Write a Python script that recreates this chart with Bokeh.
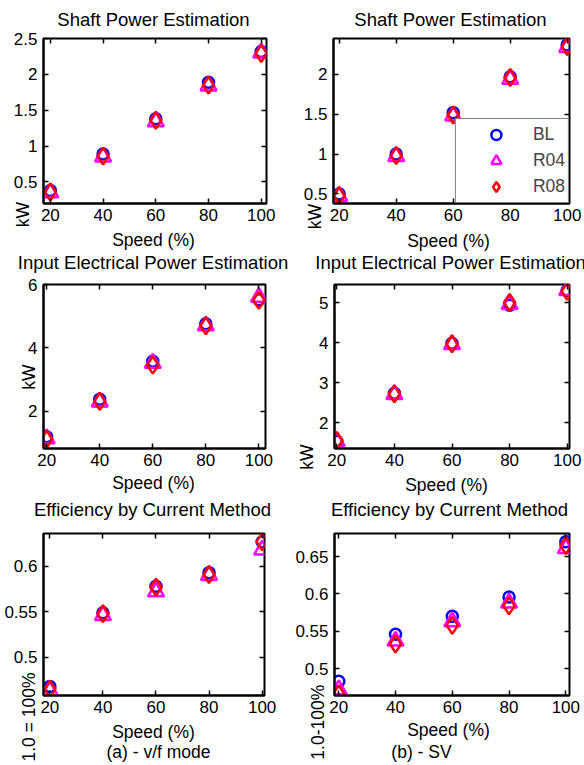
import math
from bokeh.plotting import figure
from bokeh.models import Label, Legend, LegendItem, FixedTicker, LinearAxis, Range1d
from bokeh.layouts import column, row
from bokeh.embed import file_html
from bokeh.resources import INLINE

# ---------------- data ----------------
speed = [20, 40, 60, 80, 100]
x_ticks = [20, 40, 60, 80, 100]
x_tick_labels = ["20", "40", "60", "80", "100"]
series_names = ["BL", "R04", "R08"]

# (a) v/f mode
vf_shaft_bl = [0.38, 0.89, 1.38, 1.89, 2.32]
vf_shaft_r04 = [0.35, 0.85, 1.34, 1.84, 2.30]
vf_shaft_r08 = [0.36, 0.86, 1.36, 1.85, 2.29]
vf_input_bl = [1.20, 2.38, 3.58, 4.76, 5.52]
vf_input_r04 = [1.14, 2.30, 3.52, 4.70, 5.60]
vf_input_r08 = [1.12, 2.32, 3.46, 4.70, 5.50]
vf_eff_bl = [0.468, 0.549, 0.578, 0.593, 0.627]
vf_eff_r04 = [0.463, 0.546, 0.572, 0.590, 0.618]
vf_eff_r08 = [0.465, 0.548, 0.577, 0.591, 0.627]

# (b) SV
sv_shaft_bl = [0.50, 1.00, 1.52, 1.97, 2.37]
sv_shaft_r04 = [0.47, 0.97, 1.48, 1.94, 2.34]
sv_shaft_r08 = [0.48, 0.98, 1.49, 1.96, 2.35]
sv_input_bl = [1.53, 2.73, 3.98, 4.93, 5.30]
sv_input_r04 = [1.52, 2.70, 3.95, 4.95, 5.30]
sv_input_r08 = [1.55, 2.72, 3.97, 5.00, 5.28]
sv_eff_bl = [0.483, 0.546, 0.570, 0.596, 0.670]
sv_eff_r04 = [0.472, 0.537, 0.563, 0.588, 0.661]
sv_eff_r08 = [0.466, 0.533, 0.558, 0.584, 0.665]

# y ticks
yt_vf_shaft = [0.5, 1, 1.5, 2, 2.5]
yl_vf_shaft = ["0.5", "1", "1.5", "2", "2.5"]
yt_sv_shaft = [0.5, 1, 1.5, 2]
yl_sv_shaft = ["0.5", "1", "1.5", "2"]
yt_vf_input = [2, 4, 6]
yl_vf_input = ["2", "4", "6"]
yt_sv_input = [2, 3, 4, 5]
yl_sv_input = ["2", "3", "4", "5"]
yt_vf_eff = [0.5, 0.55, 0.6]
yl_vf_eff = ["0.5", "0.55", "0.6"]
yt_sv_eff = [0.5, 0.55, 0.6, 0.65]
yl_sv_eff = ["0.5", "0.55", "0.6", "0.65"]

# texts
titles = ["Shaft Power Estimation", "Shaft Power Estimation",
          "Input Electrical Power Estimation", "Input Electrical Power Estimation",
          "Efficiency by Current Method", "Efficiency by Current Method"]
x_label = "Speed (%)"
y_labels = ["kW", "kW", "kW", "kW", "1.0 = 100%", "1.0-100%"]
captions = ["(a) - v/f mode", "(b) - SV"]

# ---------------- style / layout ----------------
FONT = "Liberation Sans"
FS_TICK = "17px"
FS_LAB = "17.5px"
FS_TITLE = "18.5px"
COLORS = ["#0000ff", "#ff00ff", "#ff0000"]
ROW_TOP = [0, 251, 494]
ROW_H = [251, 243, 271]
COL_LEFT = [0, 292]
COL_W = 292
W, H = 584, 765

# page-pixel anchor points for the texts (layout only)
TITLE_POS = [(153, 19), (450, 19), (152.5, 262), (450, 262), (152, 509), (449, 509)]
XLAB_POS = [(153, 239.5), (448, 240.5), (153, 482.5), (446, 484.5), (153, 731.5), (448, 729.5)]
YLAB_POS = [(22.5, 214), (314.5, 216), (28.3, 376.5), (306, 456.7), (28.3, 716.5), (317.8, 721.7)]
CAP_POS = [(158, 751.5), (421, 751.5)]


def panel(r, c, frame, xr, yr, yt, yl, ys, legend=False):
    left, top, right, bottom = frame
    rl = COL_LEFT[c]
    rt = ROW_TOP[r]
    p = figure(width=COL_W, height=ROW_H[r], output_backend="svg",
               toolbar_location=None, x_range=Range1d(*xr), y_range=Range1d(*yr),
               min_border_left=int(round(left - rl)),
               min_border_right=int(round(rl + COL_W - right)),
               min_border_top=int(round(top - rt)),
               min_border_bottom=int(round(rt + ROW_H[r] - bottom)))
    p.grid.visible = False
    p.outline_line_color = "black"
    p.outline_line_width = 2
    p.background_fill_color = "white"
    p.border_fill_color = "white"
    for ax in (p.xaxis[0], p.yaxis[0]):
        ax.major_tick_in = 5
        ax.major_tick_out = 0
        ax.minor_tick_line_color = None
        ax.axis_line_width = 2
        ax.major_tick_line_width = 1.5
        ax.major_label_text_font = FONT
        ax.major_label_text_font_size = FS_TICK
        ax.major_label_text_color = "black"
    p.xaxis[0].ticker = FixedTicker(ticks=x_ticks)
    p.xaxis[0].major_label_overrides = dict(zip(x_ticks, x_tick_labels))
    p.xaxis[0].major_label_standoff = 5
    p.yaxis[0].ticker = FixedTicker(ticks=yt)
    p.yaxis[0].major_label_overrides = dict(zip(yt, yl))
    p.yaxis[0].major_label_standoff = 6
    # mirrored ticks (box)
    for side, tk in (("right", yt), ("above", x_ticks)):
        a = LinearAxis(ticker=FixedTicker(ticks=tk),
                       major_label_overrides={t: "" for t in tk},
                       major_label_text_font_size="10px",
                       major_tick_in=5, major_tick_out=0, major_tick_line_width=1.5,
                       minor_tick_line_color=None, axis_line_color=None,
                       major_label_standoff=0)
        p.add_layout(a, side)

    rends = []
    markers = [dict(marker="circle", size=11),
               dict(marker="triangle", size=16),
               dict(marker="diamond", size=17)]
    for vals, col, mk in zip(ys, COLORS, markers):
        rr = p.scatter(speed, vals, line_color=col, fill_color=None,
                       line_width=2.5, **mk)
        rends.append(rr)

    if legend:
        leg = Legend(items=[LegendItem(label=n, renderers=[rr])
                            for n, rr in zip(series_names, rends)],
                     location="bottom_right", margin=0, padding=3,
                     glyph_width=74, glyph_height=25, label_height=25,
                     label_standoff=-2, spacing=1,
                     label_text_font=FONT, label_text_font_size=FS_LAB,
                     border_line_color="black", border_line_width=1.5,
                     background_fill_alpha=1.0)
        p.add_layout(leg, "center")
    return p


p1 = panel(0, 0, (43, 37, 266, 203), (17.4, 102.0), (0.2, 2.5), yt_vf_shaft, yl_vf_shaft,
           [vf_shaft_bl, vf_shaft_r04, vf_shaft_r08])
p2 = panel(0, 1, (333, 38, 569, 204), (18.0, 100.8), (0.38, 2.45), yt_sv_shaft, yl_sv_shaft,
           [sv_shaft_bl, sv_shaft_r04, sv_shaft_r08], legend=True)
p3 = panel(1, 0, (43, 283, 265, 448), (18.8, 102.5), (0.83, 6.0), yt_vf_input, yl_vf_input,
           [vf_input_bl, vf_input_r04, vf_input_r08])
p4 = panel(1, 1, (334, 284, 569, 452), (19.2, 100.8), (1.35, 5.45), yt_sv_input, yl_sv_input,
           [sv_input_bl, sv_input_r04, sv_input_r08])
p5 = panel(2, 0, (43, 529, 264, 695), (17.6, 100.9), (0.458, 0.636), yt_vf_eff, yl_vf_eff,
           [vf_eff_bl, vf_eff_r04, vf_eff_r08])
p6 = panel(2, 1, (333, 533, 569, 699), (18.5, 101.3), (0.464, 0.681), yt_sv_eff, yl_sv_eff,
           [sv_eff_bl, sv_eff_r04, sv_eff_r08])

# transparent overlay carrying the texts that sit outside the plot boxes
ov = figure(width=W, height=H, output_backend="svg", toolbar_location=None,
            x_range=Range1d(0, W), y_range=Range1d(H, 0),
            x_axis_type=None, y_axis_type=None, min_border=0,
            background_fill_color=None, border_fill_color=None,
            outline_line_color=None,
            styles={"position": "absolute", "left": "0px", "top": "0px",
                    "pointer-events": "none"})
ov.grid.visible = False


def add_text(text, pos, size, angle=0.0, baseline="alphabetic"):
    ov.add_layout(Label(x=pos[0], y=pos[1], text=text, angle=angle,
                        text_align="center", text_baseline=baseline,
                        text_font=FONT, text_font_size=size, text_color="black"))


for i in range(6):
    add_text(titles[i], TITLE_POS[i], FS_TITLE)
    add_text(x_label, XLAB_POS[i], FS_LAB)
    add_text(y_labels[i], YLAB_POS[i], FS_LAB, angle=math.pi / 2, baseline="middle")
for i in range(2):
    add_text(captions[i], CAP_POS[i], FS_LAB)

layout = column(row(p1, p2, spacing=0), row(p3, p4, spacing=0),
                row(p5, p6, spacing=0), ov, spacing=0,
                styles={"position": "relative"})

with open("out.html", "w") as f:
    f.write(file_html(layout, INLINE))
